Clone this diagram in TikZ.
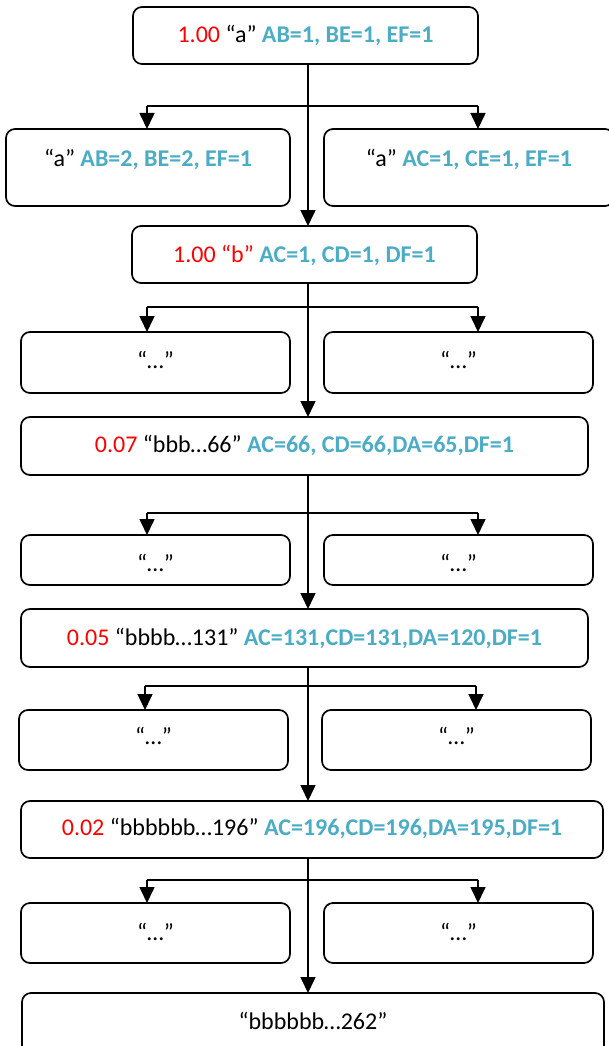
\documentclass[tikz,border=0pt]{standalone}
\usepackage{fontspec}
\setmainfont{Carlito}
\usetikzlibrary{arrows.meta}
\definecolor{vred}{HTML}{FF0000}
\definecolor{vblue}{HTML}{4BACC6}
\newcommand\rv[1]{\textcolor{vred}{#1}}
\newcommand\bv[1]{\textcolor{vblue}{\bfseries #1}}
\newcommand\mybox[5]{\node[box, minimum width={(#4-#2)*1pt}, minimum height={(#5-#3)*1pt}] (#1) at ({(#2+#4)/2},{(#3+#5)/2}) {};}
\tikzset{
  box/.style={draw=black, line width=1.7pt, rounded corners=9pt, inner sep=0pt, outer sep=0pt},
  lbl/.style={inner sep=0pt, anchor=base, font=\fontsize{24}{28}\selectfont},
  link/.style={line width=1.6pt, draw=black},
  arr/.style={link, -{Triangle[width=15pt,length=16pt]}}
}
\begin{document}
\begin{tikzpicture}[x=1pt,y=-1pt]
\useasboundingbox (0,0) rectangle (609,1046);
% boxes
\mybox{b1}{133}{7}{478}{64}
\mybox{b2l}{6}{129}{290}{206}
\mybox{b2r}{324}{129}{614}{206}
\mybox{b3}{132}{226}{477}{283}
\mybox{b4l}{21}{332}{290}{393}
\mybox{b4r}{324}{332}{593}{393}
\mybox{b5}{21}{417}{588}{475}
\mybox{b6l}{21}{535}{290}{585}
\mybox{b6r}{324}{535}{593}{585}
\mybox{b7}{21}{609}{588}{667}
\mybox{b8l}{19}{710}{288}{770}
\mybox{b8r}{322}{710}{591}{770}
\mybox{b9}{21}{801}{603}{858}
\mybox{b10l}{21}{903}{290}{963}
\mybox{b10r}{324}{903}{593}{963}
\mybox{b11}{22}{993}{604}{1070}
% texts
\node[lbl] (t1) at (305.5,43) {\rv{1.00} “a” \bv{AB=1, BE=1, EF=1}};
\node[lbl] (t2l) at (148,166) {“a” \bv{AB=2, BE=2, EF=1}};
\node[lbl] (t2r) at (469,166) {“a” \bv{AC=1, CE=1, EF=1}};
\node[lbl] (t3) at (304.5,262) {\rv{1.00} \rv{“b”} \bv{AC=1, CD=1, DF=1}};
\node[lbl] (t4l) at (155.5,368) {“…”};
\node[lbl] (t4r) at (458.5,368) {“…”};
\node[lbl] (t5) at (304.5,452) {\rv{0.07} “bbb…66” \bv{AC=66, CD=66,DA=65,DF=1}};
\node[lbl] (t6l) at (155.5,571) {“…”};
\node[lbl] (t6r) at (458.5,571) {“…”};
\node[lbl] (t7) at (304.5,645) {\rv{0.05} “bbbb…131” \bv{AC=131,CD=131,DA=120,DF=1}};
\node[lbl] (t8l) at (153.5,744) {“…”};
\node[lbl] (t8r) at (456.5,744) {“…”};
\node[lbl] (t9) at (312,835) {\rv{0.02} “bbbbbb…196” \bv{AC=196,CD=196,DA=195,DF=1}};
\node[lbl] (t10l) at (155.5,940) {“…”};
\node[lbl] (t10r) at (458.5,940) {“…”};
\node[lbl] (t11) at (313,1029) {“bbbbbb…262”};
% main spine
\coordinate (mx) at (308,0);
\draw[arr] (b1.south -| mx) -- (b3.north -| mx);
\draw[arr] (b3.south -| mx) -- (b5.north -| mx);
\draw[arr] (b5.south -| mx) -- (b7.north -| mx);
\draw[arr] (b7.south -| mx) -- (b9.north -| mx);
\draw[arr] (b9.south -| mx) -- (b11.north -| mx);
% branches
\coordinate (j1l) at (147,106); \coordinate (j1r) at (478,106);
\draw[link] (j1l) -- (j1r);
\draw[arr] (j1l) -- (j1l |- b2l.north);
\draw[arr] (j1r) -- (j1r |- b2r.north);
\coordinate (j2l) at (147,307); \coordinate (j2r) at (478,307);
\draw[link] (j2l) -- (j2r);
\draw[arr] (j2l) -- (j2l |- b4l.north);
\draw[arr] (j2r) -- (j2r |- b4r.north);
\coordinate (j3l) at (147,513); \coordinate (j3r) at (478,513);
\draw[link] (j3l) -- (j3r);
\draw[arr] (j3l) -- (j3l |- b6l.north);
\draw[arr] (j3r) -- (j3r |- b6r.north);
\coordinate (j4l) at (145,686); \coordinate (j4r) at (476,686);
\draw[link] (j4l) -- (j4r);
\draw[arr] (j4l) -- (j4l |- b8l.north);
\draw[arr] (j4r) -- (j4r |- b8r.north);
\coordinate (j5l) at (147,880); \coordinate (j5r) at (478,880);
\draw[link] (j5l) -- (j5r);
\draw[arr] (j5l) -- (j5l |- b10l.north);
\draw[arr] (j5r) -- (j5r |- b10r.north);
\end{tikzpicture}
\end{document}
